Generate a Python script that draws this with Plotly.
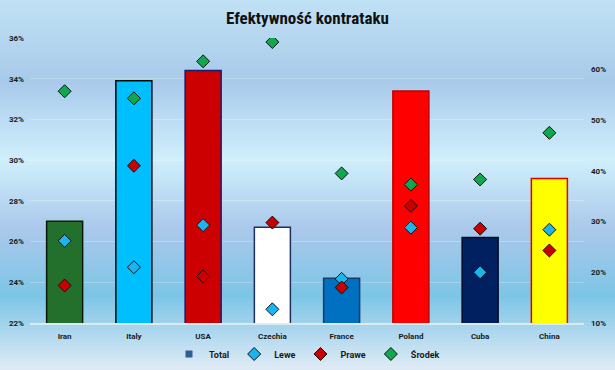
import plotly.graph_objects as go

categories = ["Iran", "Italy", "USA", "Czechia", "France", "Poland", "Cuba", "China"]
total = [0.270, 0.339, 0.344, 0.267, 0.242, 0.334, 0.262, 0.291]
lewe = [0.262, 0.210, 0.293, 0.127, 0.187, 0.288, 0.200, 0.284]
prawe = [0.174, 0.410, 0.192, 0.298, 0.170, 0.331, 0.286, 0.243]
srodek = [0.557, 0.543, 0.616, 0.654, 0.395, 0.373, 0.383, 0.475]

bar_colors = ["#22702c", "#00bfff", "#cc0000", "#ffffff", "#0070c0", "#ff0000", "#002060", "#ffff00"]
bar_lines = ["#0a1a0a", "#0a0a0a", "#1a1a6e", "#1f2f5f", "#1a3a6a", "#c00000", "#000a2a", "#e00000"]

left_ticks = [0.22, 0.24, 0.26, 0.28, 0.30, 0.32, 0.34, 0.36]
right_ticks = [0.10, 0.20, 0.30, 0.40, 0.50, 0.60]

W, H = 615, 370
L, R, T, B = 30, 31, 37.5, 47
plot_h = H - T - B

# background gradient stops (pixel-y fraction, rgb)
stops = [(0.0, (192, 225, 244)), (0.22, (168, 202, 234)), (0.43, (207, 239, 252)),
         (0.62, (170, 200, 234)), (0.80, (124, 197, 230)), (1.0, (224, 235, 246))]

def grad(f):
    for i in range(len(stops) - 1):
        a, ca = stops[i]
        b, cb = stops[i + 1]
        if a <= f <= b:
            t = (f - a) / (b - a)
            return tuple(int(round(ca[k] + (cb[k] - ca[k]) * t)) for k in range(3))
    return stops[-1][1]

shapes = []
n = 92
step = H / n
for i in range(n):
    p0 = i * step
    p1 = p0 + step + 0.8
    c = grad((p0 + step / 2) / H)
    shapes.append(dict(type="rect", xref="paper", yref="paper", layer="below",
                       x0=-L / (W - L - R) - 0.01, x1=1 + R / (W - L - R) + 0.01,
                       y0=(H - B - p1) / plot_h, y1=(H - B - p0) / plot_h,
                       fillcolor="rgb(%d,%d,%d)" % c, line=dict(width=0)))

fig = go.Figure()
fig.add_trace(go.Bar(x=categories, y=total, width=0.52, name="Total", showlegend=False,
                     marker=dict(color=bar_colors, line=dict(color=bar_lines, width=1.5))))
fig.add_trace(go.Scatter(x=[None], y=[None], mode="markers", name="Total",
                         marker=dict(symbol="square", size=7, color="#2e5f8f")))

def mk(name, vals, col):
    fig.add_trace(go.Scatter(x=categories, y=vals, mode="markers", name=name, yaxis="y2",
                             marker=dict(symbol="diamond", size=10, color=col,
                                         line=dict(color="#111111", width=1))))

mk("Lewe", lewe, "#1cb4ee")
mk("Prawe", prawe, "#c80000")
mk("Środek", srodek, "#10a84e")

tf = dict(family="Roboto, Liberation Sans, sans-serif", size=8, color="#1a1a1a", weight="bold")
lf = dict(family="Roboto, Liberation Sans, sans-serif", size=9, color="#1a1a1a", weight="bold")

fig.update_layout(
    width=W, height=H,
    margin=dict(l=L, r=R, t=T, b=B),
    paper_bgcolor="#bfe0f3", plot_bgcolor="rgba(0,0,0,0)",
    shapes=shapes,
    title=dict(text="Efektywność kontrataku", x=0.5, xanchor="center", y=1 - 18 / H, yanchor="middle",
               font=dict(family="Roboto Condensed, Roboto, Liberation Sans, sans-serif", size=17,
                         color="#111111", weight="bold")),
    xaxis=dict(showgrid=False, showline=True, linecolor="#dceaf4", linewidth=1.5,
               ticks="", tickfont=tf, range=[-0.5, 7.5], automargin=False, ticklabelstandoff=5),
    yaxis=dict(range=[0.22, 0.36], tickvals=left_ticks, tickformat=".0%", tickfont=tf,
               showgrid=True, gridcolor="rgba(255,255,255,0.25)", gridwidth=1,
               zeroline=False, showline=False, ticks="", automargin=False, ticklabelstandoff=5),
    yaxis2=dict(range=[0.10, 0.662], tickvals=right_ticks, tickformat=".0%", tickfont=tf,
                overlaying="y", side="right", showgrid=False, zeroline=False, ticks="",
                automargin=False, ticklabelstandoff=6),
    legend=dict(orientation="h", x=0.5, xanchor="center", yref="container", y=16 / H, yanchor="middle",
                font=lf, bgcolor="rgba(0,0,0,0)", itemwidth=30, tracegroupgap=0),
    bargap=0.48,
)

fig.write_html("out.html", config={"displayModeBar": False},
               post_script="document.body.style.margin='0';")
